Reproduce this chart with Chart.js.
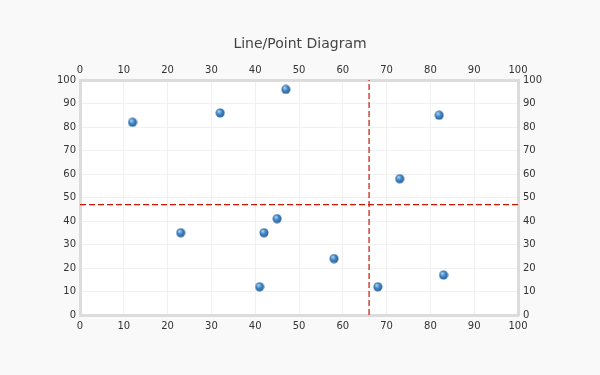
<!DOCTYPE html>
<html>
<head>
<meta charset="utf-8">
<script src="https://cdn.jsdelivr.net/npm/chart.js@4"></script>
<style>
  html, body { margin: 0; padding: 0; background: #f9f9f9; }
  #wrap { width: 600px; height: 375px; }
</style>
</head>
<body>
<div id="wrap"><canvas id="diagram"></canvas></div>
<script>
  // Punkte
  const xValues = [12, 32, 47, 82, 73, 45, 42, 23, 58, 41, 68, 83];
  const yValues = [82, 86, 96, 85, 58, 41, 35, 35, 24, 12, 12, 17];
  const crossX = 66;
  const crossY = 47;
  const axisMin = 0;
  const axisMax = 100;
  const tickStep = 10;

  // Kugel-Symbol fuer die Punkte
  const ball = document.createElement('canvas');
  ball.width = 10; ball.height = 10;
  const bctx = ball.getContext('2d');
  const grad = bctx.createRadialGradient(3.6, 3.2, 0.5, 5, 5, 5);
  grad.addColorStop(0, '#a8d0f0');
  grad.addColorStop(0.45, '#4286c4');
  grad.addColorStop(1, '#235a92');
  bctx.fillStyle = grad;
  bctx.beginPath();
  bctx.arc(5, 5, 4.5, 0, Math.PI * 2);
  bctx.fill();

  const points = xValues.map((x, i) => ({ x: x, y: yValues[i] }));

  const font = { family: 'DejaVu Sans', size: 10 };
  const gridStyle = { color: '#f0f0f0', lineWidth: 1, drawTicks: false };
  const borderStyle = { color: '#dcdcdc', width: 3 };

  const ctx = document.getElementById('diagram');

  new Chart(ctx, {
    type: 'scatter',
    data: {
      datasets: [{
        label: 'Punkte',
        data: points,
        pointStyle: ball,
        pointRadius: 5,
        pointHoverRadius: 5,
        order: 0
      },
      {
        label: 'X-Linie',
        data: [{ x: crossX, y: axisMin }, { x: crossX, y: axisMax }],
        showLine: true,
        borderColor: '#c81400',
        borderWidth: 1.2,
        borderDash: [6, 3],
        pointRadius: 0,
        order: 1
      },
      {
        label: 'Y-Linie',
        data: [{ x: axisMin, y: crossY }, { x: axisMax, y: crossY }],
        showLine: true,
        borderColor: '#c81400',
        borderWidth: 1.2,
        borderDash: [6, 3],
        pointRadius: 0,
        order: 1
      }]
    },
    options: {
      responsive: true,
      maintainAspectRatio: false,
      animation: false,
      layout: { padding: 0 },
      scales: {
        x: {
          position: 'bottom', min: axisMin, max: axisMax,
          ticks: { stepSize: tickStep, color: '#333', font: font, padding: 5, maxRotation: 0 },
          grid: gridStyle, border: borderStyle,
          afterFit: (s) => { s.height = 60; }
        },
        x2: {
          position: 'top', min: axisMin, max: axisMax,
          ticks: { stepSize: tickStep, color: '#333', font: font, padding: 4, maxRotation: 0 },
          grid: gridStyle, border: borderStyle,
          afterFit: (s) => { s.height = 23.2; }
        },
        y: {
          position: 'left', min: axisMin, max: axisMax,
          ticks: { stepSize: tickStep, color: '#333', font: font, padding: 4 },
          grid: gridStyle, border: borderStyle,
          afterFit: (s) => { s.width = 80; }
        },
        y2: {
          position: 'right', min: axisMin, max: axisMax,
          ticks: { stepSize: tickStep, color: '#333', font: font, padding: 5 },
          grid: gridStyle, border: borderStyle,
          afterFit: (s) => { s.width = 82; }
        }
      },
      plugins: {
        legend: { display: false },
        tooltip: { enabled: false },
        title: {
          display: true,
          text: 'Line/Point Diagram',
          color: '#444',
          font: { family: 'DejaVu Sans', size: 14, weight: 'normal' },
          padding: { top: 36, bottom: 4 }
        }
      }
    },
    plugins: [{
      id: 'plotBg',
      beforeDraw: function (chart) {
        const a = chart.chartArea;
        const c = chart.ctx;
        c.save();
        c.fillStyle = '#ffffff';
        c.fillRect(a.left, a.top, a.right - a.left, a.bottom - a.top);
        c.restore();
      }
    }]
  });
</script>
</body>
</html>
